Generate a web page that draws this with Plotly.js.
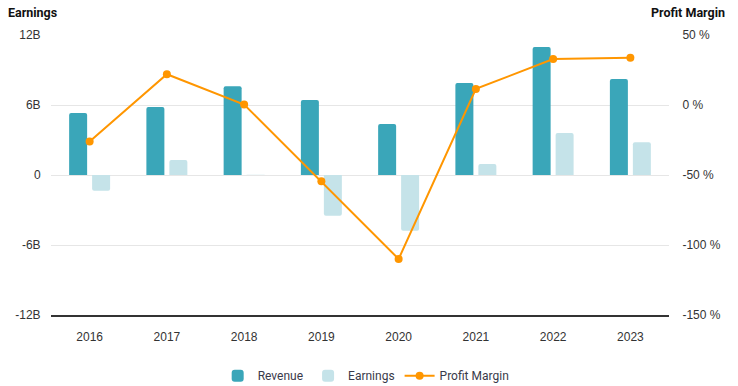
<!DOCTYPE html>
<html>
<head>
<meta charset="utf-8">
<script src="https://cdn.plot.ly/plotly-3.0.1.min.js"></script>
<style>html,body{margin:0;padding:0;background:#fff;}#chart{width:738px;height:386px;}</style>
</head>
<body>
<div id="chart"></div>
<script>
const years = ['2016','2017','2018','2019','2020','2021','2022','2023'];
const revenue = [5.31, 5.83, 7.6, 6.43, 4.37, 7.88, 10.97, 8.23];
const earnings = [-1.34, 1.29, 0.02, -3.49, -4.77, 0.94, 3.6, 2.8];
const profitMargin = [-26, 22, 0.3, -54.5, -110, 11.5, 32.8, 33.8];
const leftTickVals = [-12, -6, 0, 6, 12];
const leftTickText = ['-12B', '-6B', '0', '6B', '12B'];
const rightTickVals = [-150, -100, -50, 0, 50];
const rightTickText = ['-150 %', '-100 %', '-50 %', '0 %', '50 %'];

const tickFont = {family: '"Liberation Sans", Arial, sans-serif', size: 12, color: '#333'};

const data = [
  {type: 'bar', name: 'Revenue', x: years, y: revenue, marker: {color: '#3AA6B9'}, yaxis: 'y', hoverinfo: 'skip'},
  {type: 'bar', name: 'Earnings', x: years, y: earnings, marker: {color: '#C5E3E9'}, yaxis: 'y', hoverinfo: 'skip'},
  {type: 'scatter', mode: 'lines+markers', name: 'Profit Margin', x: years, y: profitMargin, yaxis: 'y2',
   line: {color: '#FF9600', width: 2}, marker: {color: '#FF9600', size: 8}}
];

const layout = {
  width: 738, height: 386,
  margin: {l: 51, r: 69, t: 35, b: 71, autoexpand: false},
  paper_bgcolor: '#fff', plot_bgcolor: '#fff',
  barmode: 'group', bargap: 0.405, bargroupgap: 0.217, barcornerradius: 2,
  showlegend: true,
  legend: {orientation: 'h', x: 0.51, xanchor: 'center', y: -0.165, yanchor: 'top',
           font: {family: 'Roboto, sans-serif', size: 12, color: '#3a3a4a'}, itemwidth: 30, traceorder: 'normal'},
  xaxis: {type: 'category', showgrid: false, showline: true, linecolor: '#333', linewidth: 1.5,
          ticks: 'outside', ticklen: 10, tickcolor: 'rgba(0,0,0,0)', tickfont: tickFont, zeroline: false, fixedrange: true},
  yaxis: {range: [-12, 12], tickvals: leftTickVals, ticktext: leftTickText, showgrid: true, gridcolor: '#e6e6e6',
          zeroline: false, showline: false, tickfont: tickFont, ticks: 'outside', ticklen: 7, tickcolor: 'rgba(0,0,0,0)'},
  yaxis2: {range: [-150, 50], tickvals: rightTickVals, ticktext: rightTickText, overlaying: 'y', side: 'right',
           showgrid: false, zeroline: false, showline: false, tickfont: tickFont, ticks: 'outside', ticklen: 10, tickcolor: 'rgba(0,0,0,0)'},
  annotations: [
    {text: '<b>Earnings</b>', xref: 'paper', yref: 'paper', x: -51/618, y: 1, xanchor: 'left', yanchor: 'bottom',
     showarrow: false, font: {family: 'Roboto, sans-serif', size: 12.5, color: '#111'}, xshift: 6, yshift: 13},
    {text: '<b>Profit Margin</b>', xref: 'paper', yref: 'paper', x: 1 + 58/618, y: 1, xanchor: 'right', yanchor: 'bottom',
     showarrow: false, font: {family: 'Roboto, sans-serif', size: 12.5, color: '#111'}, yshift: 13}
  ]
};

Plotly.newPlot('chart', data, layout, {displayModeBar: false, staticPlot: true});
</script>
</body>
</html>
